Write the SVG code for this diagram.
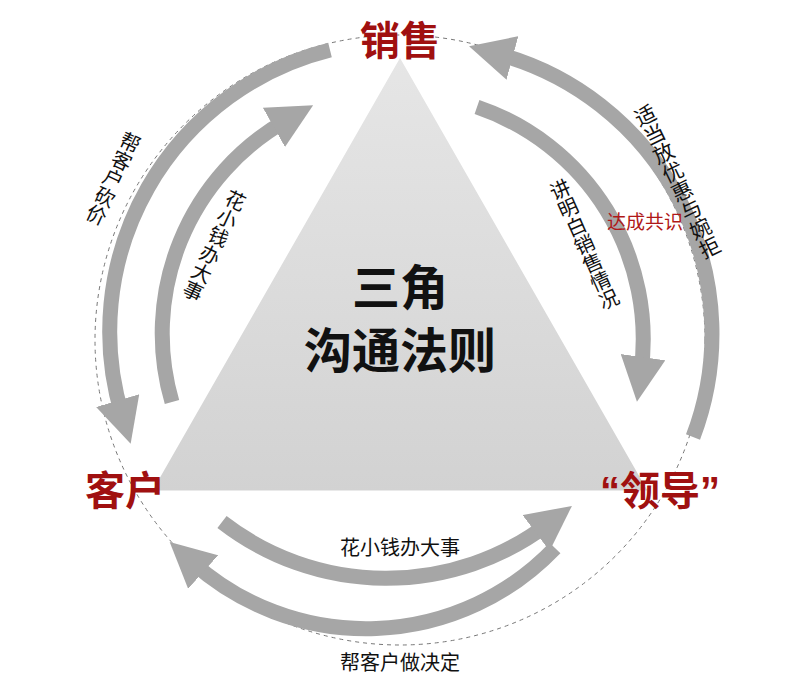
<svg xmlns="http://www.w3.org/2000/svg" width="800" height="700" viewBox="0 0 800 700">
<style>
.arc{fill:none;stroke:#a6a6a6;stroke-width:15}
.lbl{font-family:"Liberation Sans","Noto Sans CJK SC",sans-serif;font-size:20px;fill:#111;writing-mode:vertical-rl;text-anchor:middle}
.node{font-family:"Liberation Sans","Noto Sans CJK SC",sans-serif;font-size:40px;font-weight:bold;fill:#a01010;text-anchor:middle}
</style>
<defs>
<marker id="ah" markerWidth="3" markerHeight="3" refX="1" refY="1.5" orient="auto" markerUnits="strokeWidth" viewBox="0 0 3 3">
<path d="M0,0 L3,1.5 L0,3 Z" fill="#a6a6a6"/>
</marker>
<linearGradient id="tg" x1="0" y1="0" x2="0" y2="1">
<stop offset="0" stop-color="#e6e6e6"/><stop offset="1" stop-color="#d2d2d2"/>
</linearGradient>
</defs>
<rect width="800" height="700" fill="#fff"/>
<circle cx="400" cy="340" r="305" fill="none" stroke="#777" stroke-width="1" stroke-dasharray="4,4"/>
<g id="triangle">
<polygon points="400,55 150,492 650,492" fill="url(#tg)" stroke="#fff" stroke-width="3"/>
<text x="400" y="305" font-family="Liberation Sans,Noto Sans CJK SC,sans-serif" font-size="48" font-weight="bold" text-anchor="middle" fill="#111">三角</text>
<text x="400" y="368" font-family="Liberation Sans,Noto Sans CJK SC,sans-serif" font-size="48" font-weight="bold" text-anchor="middle" fill="#111">沟通法则</text>
</g>
<g id="connectors">
<path class="arc" d="M330,50 A290,290 0 0 0 122,415" marker-end="url(#ah)"/>
<path class="arc" d="M172,402 A245,245 0 0 1 287,120" marker-end="url(#ah)"/>
<path class="arc" d="M693,437 A290,290 0 0 0 498,54" marker-end="url(#ah)"/>
<path class="arc" d="M477,107 A245,245 0 0 1 641,372" marker-end="url(#ah)"/>
<path class="arc" d="M222,522 A268,268 0 0 0 548,524" marker-end="url(#ah)"/>
<path class="arc" d="M555,548 A261,261 0 0 1 192,562" marker-end="url(#ah)"/>
</g>
<g id="labels">
<text class="lbl" transform="translate(112,178) rotate(25)">帮客户砍价</text>
<text class="lbl" transform="translate(213,245) rotate(25)">花小钱办大事</text>
<text class="lbl" transform="translate(583,245) rotate(-24)">讲明白销售情况</text>
<text class="lbl" style="font-size:21px" transform="translate(676,182) rotate(-26)">适当放优惠与婉拒</text>
<text x="645" y="229" font-family="Liberation Sans,Noto Sans CJK SC,sans-serif" font-size="19" fill="#b01818" text-anchor="middle">达成共识</text>
<text x="400" y="555" font-family="Liberation Sans,Noto Sans CJK SC,sans-serif" font-size="20" fill="#111" text-anchor="middle">花小钱办大事</text>
<text x="400" y="670" font-family="Liberation Sans,Noto Sans CJK SC,sans-serif" font-size="20" fill="#111" text-anchor="middle">帮客户做决定</text>
</g>
<g id="n-sales"><text class="node" x="400" y="55">销售</text></g>
<g id="n-customer"><text class="node" x="125" y="505">客户</text></g>
<g id="n-leader"><text class="node" x="660" y="505">“领导”</text></g>
</svg>
